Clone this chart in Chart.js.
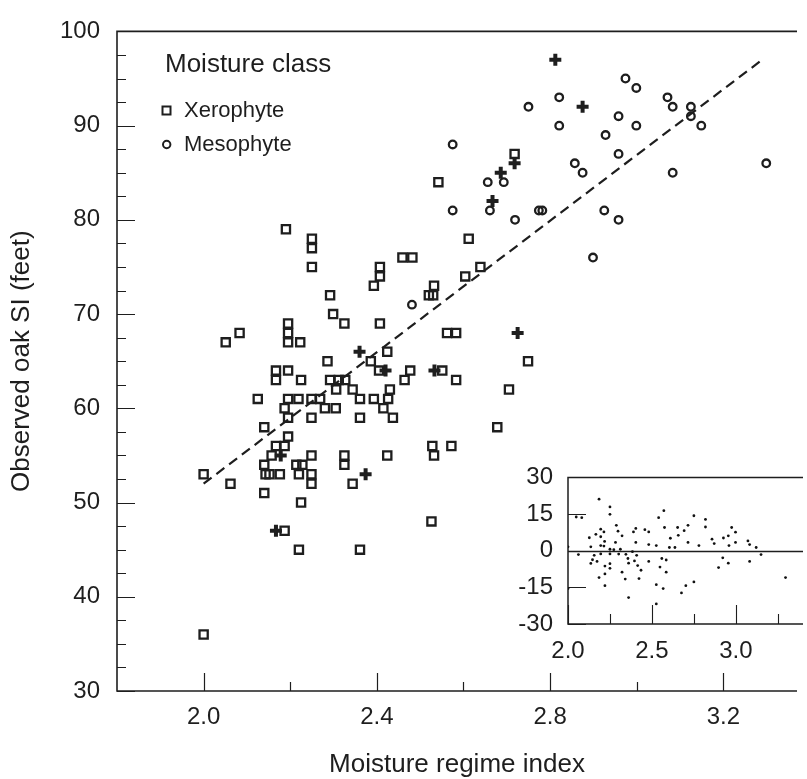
<!DOCTYPE html>
<html>
<head>
<meta charset="utf-8">
<script src="https://cdn.jsdelivr.net/npm/chart.js@4.4.1/dist/chart.umd.min.js"></script>
<style>
  html, body { margin: 0; padding: 0; background: #fff; }
  #wrap { position: relative; width: 807px; height: 779px; }
  #main { position: absolute; left: 0; top: 0; }
  #inset { position: absolute; left: 500px; top: 448px; }
</style>
</head>
<body>
<div id="wrap">
  <canvas id="main" width="807" height="779"></canvas>
  <canvas id="inset" width="307" height="225"></canvas>
</div>
<script>
// ---------------- data ----------------
const xTickValues = [2.0, 2.4, 2.8, 3.2];
const xMinorValues = [2.2, 2.6, 3.0];
const insetXTickValues = [2.0, 2.5, 3.0];
const insetXMinorValues = [2.25, 2.75, 3.25];

const xerophyte = [
  [2.25,78],[2.25,77],[2.25,75],[2.407,75],[2.407,74],[2.393,73],[2.292,72],[2.299,70],
  [2.325,69],[2.407,69],[2.195,69],[2.195,68],[2.195,67],[2.223,67],[2.083,68],[2.051,67],
  [2.386,65],[2.286,65],[2.405,64],[2.167,64],[2.195,64],[2.167,63],[2.225,63],[2.292,63],
  [2.312,63],[2.327,63],[2.306,62],[2.344,62],[2.125,61],[2.195,61],[2.219,61],[2.249,61],
  [2.269,61],[2.361,61],[2.393,61],[2.187,60],[2.280,60],[2.305,60],[2.415,60],[2.195,59],
  [2.249,59],[2.361,59],[2.140,58],[2.195,57],[2.167,56],[2.187,56],[2.157,55],[2.249,55],
  [2.325,55],[2.424,55],[2.140,54],[2.214,54],[2.228,54],[2.325,54],[2.0,53],[2.143,53],
  [2.152,53],[2.176,53],[2.220,53],[2.249,53],[2.249,52],[2.062,52],[2.344,52],[2.140,51],
  [2.225,50],[2.220,45],[2.361,45],[2.0,36],[2.187,47],[2.612,78],[2.459,76],[2.482,76],
  [2.639,75],[2.604,74],[2.532,73],[2.520,72],[2.530,72],[2.562,68],[2.583,68],[2.424,66],
  [2.749,65],[2.477,64],[2.551,64],[2.464,63],[2.583,63],[2.430,62],[2.705,62],[2.426,61],
  [2.437,59],[2.678,58],[2.528,56],[2.572,56],[2.532,55],[2.526,48],[2.542,84],[2.718,87],
  [2.19,79]
];

const mesophyte = [
  [2.974,95],[2.999,94],[2.750,92],[2.821,93],[2.821,90],[3.071,93],[3.083,92],[3.125,92],
  [3.125,91],[3.149,90],[2.958,91],[2.999,90],[2.928,89],[2.958,87],[2.857,86],[2.875,85],
  [3.083,85],[3.299,86],[2.656,84],[2.693,84],[2.661,81],[2.719,80],[2.774,81],[2.782,81],
  [2.925,81],[2.958,80],[2.899,76],[2.575,88],[2.575,81],[2.481,71]
];

const otherClass = [
  [2.812,97],[2.875,92],[2.686,85],[2.718,86],[2.667,82],[2.725,68],[2.360,66],[2.420,64],
  [2.533,64],[2.178,55],[2.374,53],[2.167,47]
];

const fitX = [2.0, 3.29];
const fitY = [52, 97];

const residuals = [
  [2.0,1.6],[2.0,-15.5],[2.049,13.8],[2.082,13.5],[2.062,-1.6],[2.127,5.3],[2.136,1.6],[2.136,-5.2],
  [2.146,-3.7],[2.156,-1.9],[2.166,6.7],[2.173,-4.4],[2.185,21.1],[2.185,-11.0],[2.195,8.8],[2.195,5.7],
  [2.195,2.1],[2.195,-1.3],[2.214,7.7],[2.214,1.9],[2.218,3.8],[2.220,-6.3],[2.220,-9.5],[2.220,-14.3],
  [2.250,17.9],[2.250,14.9],[2.250,0.6],[2.250,-1.3],[2.250,-5.3],[2.250,-7.2],[2.273,0.4],[2.283,3.4],
  [2.288,10.4],[2.298,8.0],[2.302,-1.4],[2.312,0.6],[2.322,6.1],[2.322,-8.8],[2.341,-11.6],[2.345,-1.5],
  [2.357,-3.2],[2.361,-5.1],[2.361,-19.2],[2.384,-0.4],[2.390,7.7],[2.396,-4.2],[2.404,3.4],[2.404,9.1],
  [2.409,-1.9],[2.415,-6.1],[2.423,-11.4],[2.435,-8.0],[2.458,8.6],[2.481,7.7],[2.481,2.5],[2.481,-4.4],
  [2.526,2.1],[2.526,-13.9],[2.526,-21.8],[2.540,13.5],[2.548,-6.7],[2.559,-3.2],[2.567,-15.5],[2.571,16.4],
  [2.575,9.5],[2.585,-3.8],[2.585,-8.8],[2.604,1.3],[2.610,5.1],[2.637,1.3],[2.653,9.5],[2.657,6.3],
  [2.676,-17.3],[2.692,8.2],[2.702,-14.3],[2.715,10.4],[2.715,3.4],[2.750,14.3],[2.750,-12.8],[2.780,2.1],
  [2.819,12.8],[2.819,9.7],[2.858,4.7],[2.871,2.9],[2.897,-6.9],[2.922,-2.9],[2.926,5.2],[2.955,-5.1],
  [2.955,6.1],[2.959,2.1],[2.975,9.5],[2.998,7.6],[2.998,3.4],[3.072,4.0],[3.082,2.5],[3.082,-4.4],
  [3.121,1.3],[3.150,-1.6],[3.296,-11.0]
];

// ---------------- helpers ----------------
const FONT = "'Liberation Sans', Arial, Helvetica, sans-serif";
const INK = '#1e1e1e';
Chart.defaults.font.family = FONT;
Chart.defaults.color = INK;
const toXY = arr => arr.map(([x, y]) => ({ x, y }));

const mainAxes = {
  id: 'mainAxes',
  beforeDatasetsDraw(chart) {
    const { ctx, chartArea: a, scales: { x, y } } = chart;
    ctx.save();
    ctx.strokeStyle = INK;
    ctx.lineWidth = 1.6;
    ctx.beginPath();
    ctx.moveTo(a.right, a.top); ctx.lineTo(a.left, a.top);
    ctx.lineTo(a.left, a.bottom); ctx.lineTo(a.right, a.bottom);
    ctx.stroke();
    ctx.lineWidth = 1.2;
    ctx.beginPath();
    for (let v = y.min; v <= y.max + 1e-9; v += 2.5) {
      const py = Math.round(y.getPixelForValue(v)) + 0.5;
      const len = (Math.abs(v % 10) < 1e-9) ? 18 : 9;
      ctx.moveTo(a.left, py); ctx.lineTo(a.left + len, py);
    }
    xTickValues.forEach(v => {
      const px = Math.round(x.getPixelForValue(v)) + 0.5;
      ctx.moveTo(px, a.bottom); ctx.lineTo(px, a.bottom - 18);
    });
    xMinorValues.forEach(v => {
      const px = Math.round(x.getPixelForValue(v)) + 0.5;
      ctx.moveTo(px, a.bottom); ctx.lineTo(px, a.bottom - 9);
    });
    ctx.stroke();
    ctx.restore();
  }
};

const legendBox = {
  id: 'legendBox',
  afterDraw(chart) {
    const { ctx } = chart;
    const ds = chart.data.datasets;
    ctx.save();
    ctx.fillStyle = INK;
    ctx.strokeStyle = INK;
    ctx.textBaseline = 'middle';
    ctx.textAlign = 'left';
    ctx.font = '26px ' + FONT;
    ctx.fillText('Moisture class', 165, 65);
    ctx.font = '22px ' + FONT;
    ctx.lineWidth = 2;
    ctx.strokeRect(162.5, 106.5, 8, 8);
    ctx.fillText(ds[0].label, 184, 111);
    ctx.beginPath();
    ctx.arc(166.7, 144.5, 3.7, 0, Math.PI * 2);
    ctx.stroke();
    ctx.fillText(ds[1].label, 184, 144.5);
    ctx.restore();
  }
};

new Chart(document.getElementById('main').getContext('2d'), {
  type: 'scatter',
  data: {
    datasets: [
      { label: 'Xerophyte', data: toXY(xerophyte), pointStyle: 'rect', pointRadius: 5.8,
        pointBorderWidth: 2.3, pointBorderColor: INK, pointBackgroundColor: 'rgba(0,0,0,0)', order: 1 },
      { label: 'Mesophyte', data: toXY(mesophyte), pointStyle: 'circle', pointRadius: 3.8,
        pointBorderWidth: 2.3, pointBorderColor: INK, pointBackgroundColor: 'rgba(0,0,0,0)', order: 1 },
      { label: 'Other', data: toXY(otherClass), pointStyle: 'cross', pointRadius: 6,
        pointBorderWidth: 4, pointBorderColor: INK, pointBackgroundColor: INK, order: 0 },
      { type: 'line', label: 'Fit', data: fitX.map((x, i) => ({ x, y: fitY[i] })),
        borderColor: INK, borderWidth: 2.2, borderDash: [10, 6], pointRadius: 0, fill: false,
        showLine: true, order: 5 }
    ]
  },
  options: {
    responsive: false,
    animation: false,
    events: [],
    layout: { padding: { top: 17, right: 0, left: 0, bottom: 0 } },
    plugins: { legend: { display: false }, tooltip: { enabled: false } },
    scales: {
      x: {
        type: 'linear', min: 1.8, max: 3.37,
        grid: { display: false, drawTicks: false },
        border: { display: false },
        afterBuildTicks: s => { s.ticks = xTickValues.map(v => ({ value: v })); },
        afterFit: s => { s.height = 88; },
        ticks: { font: { size: 24 }, color: INK, padding: 12, maxRotation: 0,
                 callback: v => Number(v).toFixed(1) },
        title: { display: true, text: 'Moisture regime index', color: INK,
                 font: { size: 26, lineHeight: 1 }, padding: { top: 0, bottom: 1 } }
      },
      y: {
        type: 'linear', min: 30, max: 100,
        grid: { display: false, drawTicks: false },
        border: { display: false },
        afterFit: s => { s.width = 117; },
        ticks: { stepSize: 10, font: { size: 24 }, color: INK, padding: 17 },
        title: { display: true, text: 'Observed oak SI (feet)', color: INK,
                 font: { size: 26, lineHeight: 1 }, padding: { top: 9, bottom: 0 } }
      }
    }
  },
  plugins: [mainAxes, legendBox]
});

// ---------------- inset ----------------
const insetAxes = {
  id: 'insetAxes',
  beforeDatasetsDraw(chart) {
    const { ctx, chartArea: a, scales: { x, y } } = chart;
    ctx.save();
    ctx.fillStyle = '#fff';
    ctx.fillRect(a.left, a.top, a.right - a.left, a.bottom - a.top);
    ctx.strokeStyle = INK;
    ctx.lineWidth = 1.5;
    ctx.beginPath();
    ctx.moveTo(a.right, a.top); ctx.lineTo(a.left, a.top);
    ctx.lineTo(a.left, a.bottom); ctx.lineTo(a.right, a.bottom);
    const zy = Math.round(y.getPixelForValue(0)) + 0.5;
    ctx.moveTo(a.left, zy); ctx.lineTo(a.right, zy);
    ctx.stroke();
    ctx.lineWidth = 1.1;
    ctx.beginPath();
    [-30, -15, 15, 30].forEach(v => {
      const py = Math.round(y.getPixelForValue(v)) + 0.5;
      ctx.moveTo(a.left, py); ctx.lineTo(a.left + 18, py);
    });
    insetXTickValues.forEach(v => {
      const px = Math.round(x.getPixelForValue(v)) + 0.5;
      ctx.moveTo(px, a.bottom); ctx.lineTo(px, a.bottom - 19);
    });
    insetXMinorValues.forEach(v => {
      const px = Math.round(x.getPixelForValue(v)) + 0.5;
      ctx.moveTo(px, a.bottom); ctx.lineTo(px, a.bottom - 10);
    });
    ctx.stroke();
    ctx.restore();
  }
};

new Chart(document.getElementById('inset').getContext('2d'), {
  type: 'scatter',
  data: {
    datasets: [
      { label: 'Residuals', data: toXY(residuals), pointStyle: 'circle', pointRadius: 1.4,
        pointBorderWidth: 0, pointBackgroundColor: '#111' }
    ]
  },
  options: {
    responsive: false,
    animation: false,
    events: [],
    layout: { padding: { top: 17, right: 0, left: 0, bottom: 0 } },
    plugins: { legend: { display: false }, tooltip: { enabled: false } },
    scales: {
      x: {
        type: 'linear', min: 2.0, max: 3.4,
        grid: { display: false, drawTicks: false },
        border: { display: false },
        afterBuildTicks: s => { s.ticks = insetXTickValues.map(v => ({ value: v })); },
        afterFit: s => { s.height = 49; },
        ticks: { font: { size: 24 }, color: INK, padding: 13, maxRotation: 0,
                 callback: v => Number(v).toFixed(1) }
      },
      y: {
        type: 'linear', min: -30, max: 30,
        grid: { display: false, drawTicks: false },
        border: { display: false },
        afterFit: s => { s.width = 68; },
        ticks: { stepSize: 15, font: { size: 24 }, color: INK, padding: 15 }
      }
    }
  },
  plugins: [insetAxes]
});
</script>
</body>
</html>
